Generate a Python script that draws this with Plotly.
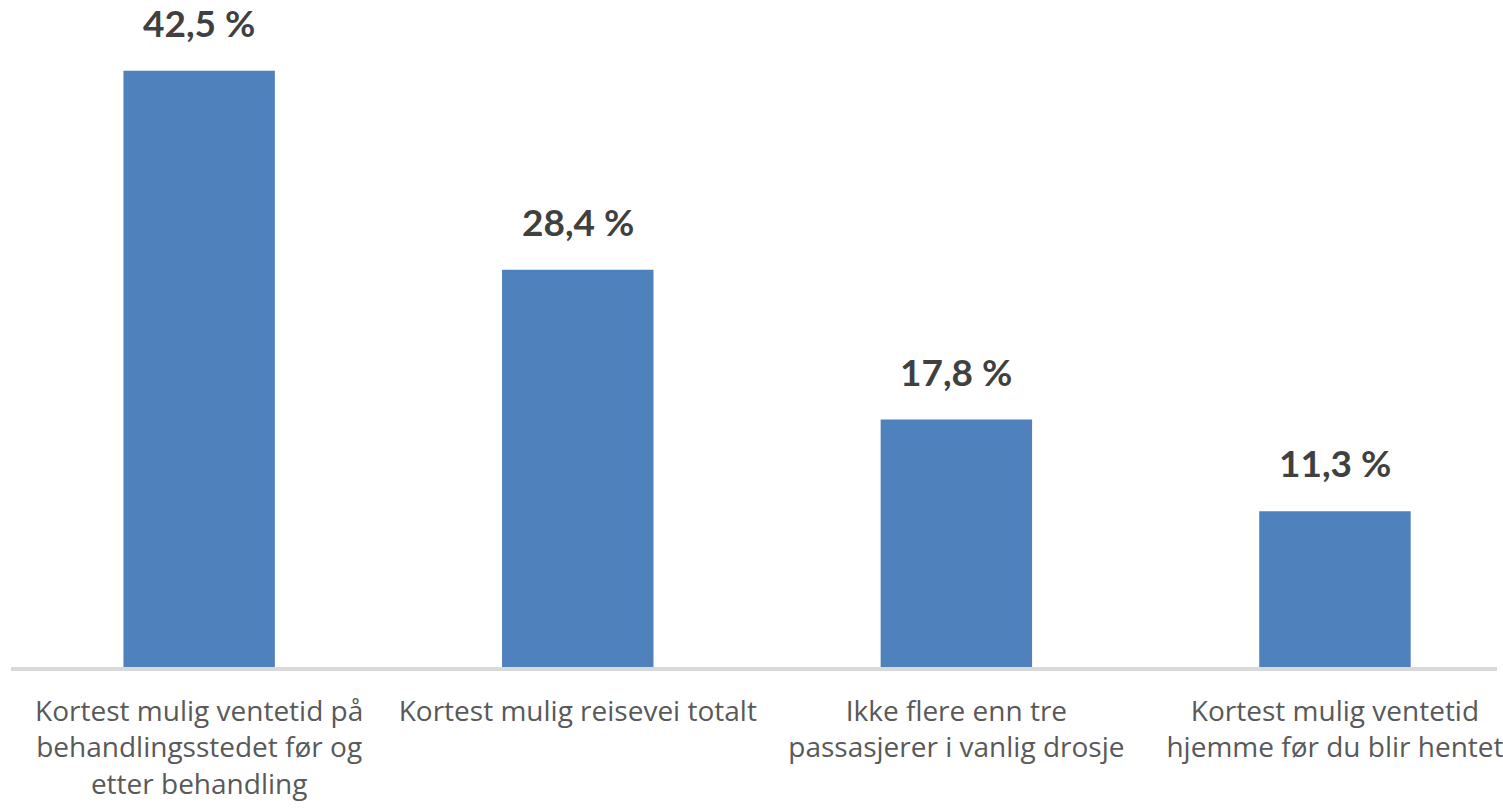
import plotly.graph_objects as go

# Data
categories = [
    "Kortest mulig ventetid på<br>behandlingsstedet før og<br>etter behandling",
    "Kortest mulig reisevei totalt",
    "Ikke flere enn tre<br>passasjerer i vanlig drosje",
    "Kortest mulig ventetid<br>hjemme før du blir hentet",
]
values = [42.5, 28.4, 17.8, 11.3]
value_labels = ["42,5 %", "28,4 %", "17,8 %", "11,3 %"]

BAR_COLOR = "#4F81BD"
LABEL_FONT = "Lato"
TICK_FONT = "Open Sans"

x_idx = list(range(len(categories)))

fig = go.Figure()
fig.add_trace(go.Bar(
    x=x_idx,
    y=values,
    marker=dict(color=BAR_COLOR, line=dict(width=0)),
    width=0.40,
    hoverinfo="skip",
))

# Value labels above each bar
for i, (v, lab) in enumerate(zip(values, value_labels)):
    fig.add_annotation(
        x=i, y=v, text=f"<b>{lab}</b>", showarrow=False,
        yanchor="bottom", yshift=24,
        font=dict(family=LABEL_FONT, size=37, color="#404040"),
    )

# Baseline drawn across the bar feet
fig.add_shape(
    type="line", xref="paper", x0=0, x1=1, yref="y", y0=0.14, y1=0.14,
    line=dict(color="#D9D9D9", width=4), layer="above",
)

fig.update_layout(
    width=1503, height=808,
    margin=dict(l=11, r=0, t=0, b=137),
    paper_bgcolor="white", plot_bgcolor="white",
    showlegend=False,
    font=dict(family=TICK_FONT),
    xaxis=dict(
        tickmode="array", tickvals=x_idx, ticktext=categories,
        range=[-0.497, 3.428],
        showgrid=False, zeroline=False, showline=False,
        ticks="", ticklabelstandoff=21, ticklabeloverflow="allow",
        tickfont=dict(family=TICK_FONT, size=28, color="#595959"),
        tickangle=0, fixedrange=True,
    ),
    yaxis=dict(
        range=[0, 47.5], visible=False, fixedrange=True,
    ),
)

fig.write_html("out.html")
